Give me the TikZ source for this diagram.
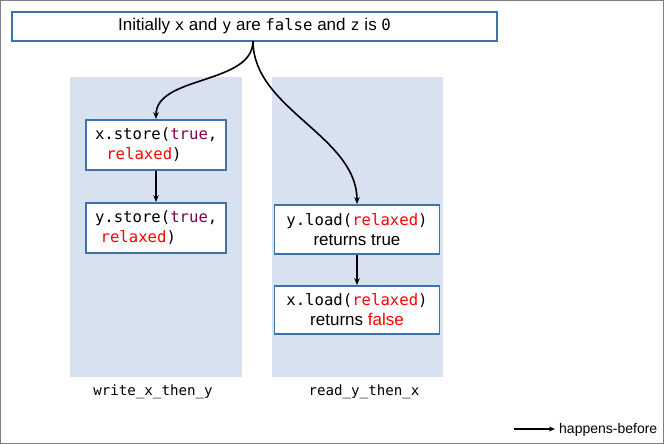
\documentclass[tikz,border=0pt]{standalone}
\usepackage{fontspec}
\setmainfont{Liberation Sans}
\setmonofont[Scale=0.92]{DejaVu Sans Mono}
\usetikzlibrary{arrows.meta}

\definecolor{boxblue}{RGB}{65,113,170}
\definecolor{lanefill}{RGB}{215,225,239}
\definecolor{kwcol}{RGB}{128,0,85}
\definecolor{framegray}{RGB}{125,125,125}
\newcommand{\kwd}[1]{\textcolor{kwcol}{#1}}
\newcommand{\ordr}[1]{\textcolor{red}{#1}}

\tikzset{
  lane/.style={fill=lanefill, draw=none},
  opbox/.style={draw=boxblue, line width=1.8pt, fill=white, inner sep=0pt,
    font=\fontsize{17}{20}\selectfont},
  leftop/.style={opbox, text width=122pt, inner xsep=9pt, align=left,
    minimum height=50pt},
  rightop/.style={opbox, minimum width=165pt, minimum height=49pt, align=center},
  hb/.style={line width=1.6pt, -{Stealth[length=7pt,width=5.5pt]}},
  lanelabel/.style={font=\fontsize{15.4}{18}\selectfont\ttfamily},
}

\begin{document}
\begin{tikzpicture}[x=1pt,y=-1pt]
  % page and outer frame
  \fill[white] (0,0) rectangle (664,444);
  \useasboundingbox (0,0) rectangle (664,444);
  \draw[framegray, line width=1.2pt] (0.6,0.6) rectangle (663.4,443.4);

  % thread lanes
  \fill[lane] (70,77) rectangle (242,377);
  \fill[lane] (272,77) rectangle (443,377);

  % initial state
  \node[opbox, minimum width=485pt, minimum height=29pt] (init) at (254.5,26.5)
    {Initially \texttt{x} and \texttt{y} are \texttt{false} and \texttt{z} is \texttt{0}};

  % writer thread
  \node[leftop] (xs) at (156,145)
    {\texttt{x.store(\kwd{true},}\\\texttt{\ \ \ordr{relaxed})}};
  \node[leftop] (ys) at (156,228)
    {\texttt{y.store(\kwd{true},}\\\texttt{\ \ordr{relaxed})}};

  % reader thread
  \node[rightop] (yl) at (357,229.5)
    {\texttt{y.load(\ordr{relaxed})}\\returns true};
  \node[rightop, minimum height=48pt] (xl) at (357,310)
    {\texttt{x.load(\ordr{relaxed})}\\returns \ordr{false}};

  % lane captions
  \node[lanelabel] (wlab) at (153,392) {write\_x\_then\_y};
  \node[lanelabel] (rlab) at (364,392) {read\_y\_then\_x};

  % happens-before edges
  \coordinate (src) at (253,41);
  \draw[hb] (src) to[out=-90, in=90, looseness=0.9] (xs.north);
  \draw[hb] (src) to[out=-90, in=90, looseness=0.9] (yl.north);
  \draw[hb] (xs.south) -- (ys.north);
  \draw[hb] (yl.south) -- (xl.north);

  % legend
  \coordinate (lga) at (514,429);
  \coordinate (lgb) at (555,429);
  \draw[line width=1.3pt, -{Stealth[length=6pt,width=5pt]}] (lga) -- (lgb);
  \node[anchor=west, inner sep=0pt, font=\fontsize{14}{16}\selectfont] (lgt) at (559,430) {happens-before};
\end{tikzpicture}
\end{document}
